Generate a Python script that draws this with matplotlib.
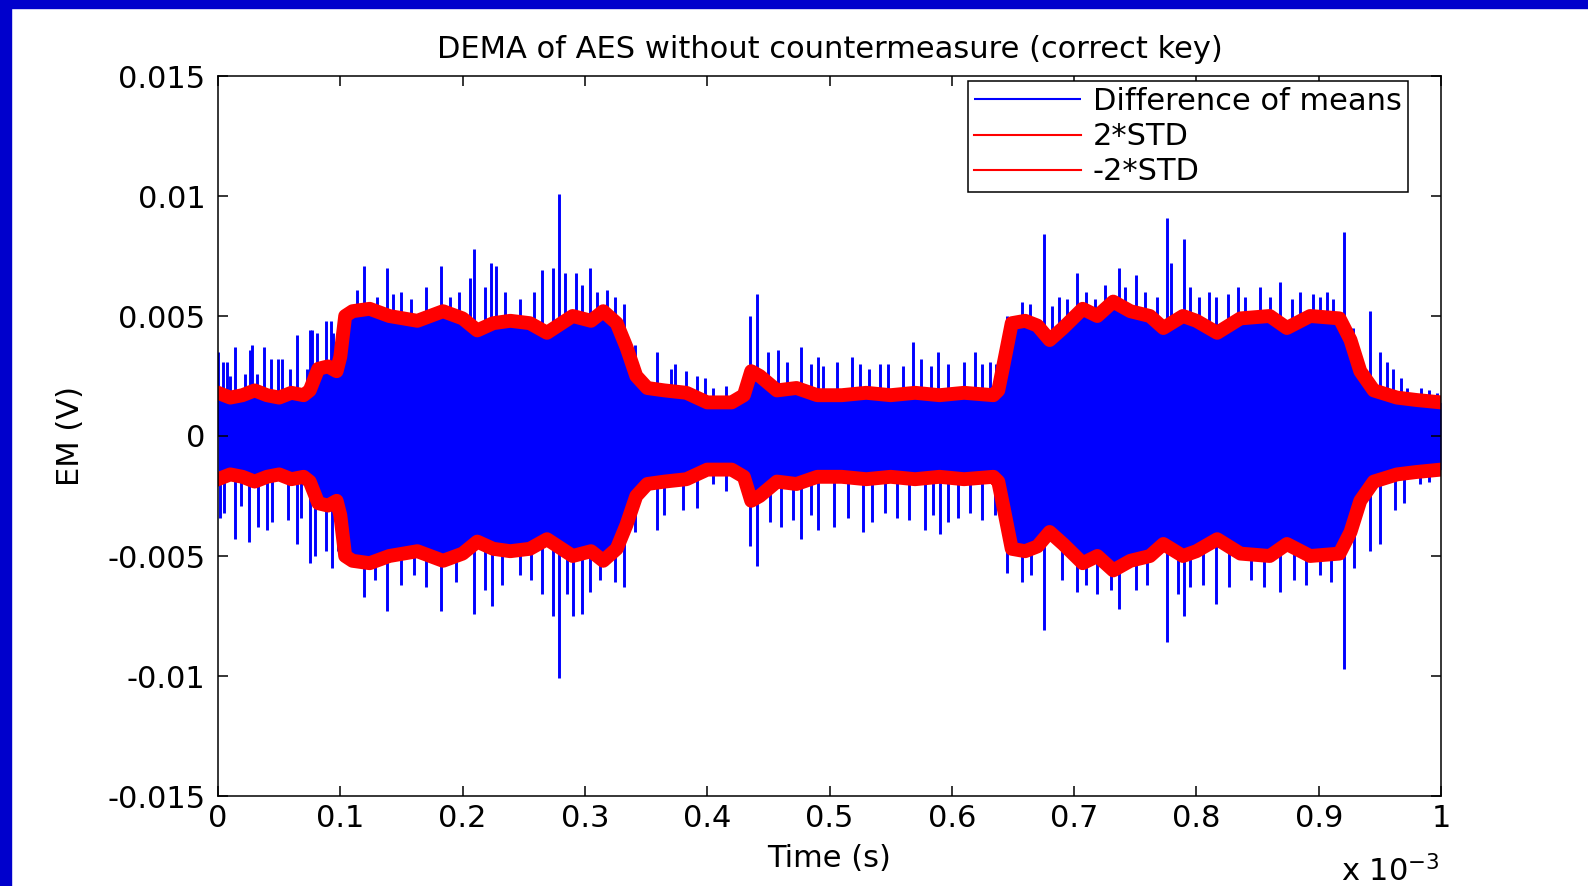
import numpy as np
import matplotlib
matplotlib.use("Agg")
import matplotlib.pyplot as plt
from matplotlib.patches import Rectangle
from matplotlib.ticker import FuncFormatter

# ── Data (time in ms, amplitude in V) ─────────────────────────────────────────
t_env = [0, 0.01, 0.02, 0.03, 0.04, 0.05, 0.06, 0.07, 0.075, 0.082, 0.09, 0.097,
         0.1, 0.104, 0.11, 0.124, 0.14, 0.163, 0.184, 0.2, 0.212, 0.225, 0.239,
         0.255, 0.269, 0.29, 0.305, 0.315, 0.326, 0.334, 0.342, 0.351, 0.365,
         0.383, 0.40, 0.41, 0.42, 0.43, 0.436, 0.443, 0.457, 0.473, 0.49, 0.51,
         0.53, 0.55, 0.57, 0.59, 0.61, 0.634, 0.638, 0.642, 0.649, 0.66, 0.67,
         0.68, 0.691, 0.707, 0.719, 0.732, 0.746, 0.762, 0.773, 0.789, 0.80,
         0.817, 0.836, 0.86, 0.874, 0.893, 0.917, 0.926, 0.934, 0.945, 0.964,
         0.98, 1.0]
std2 = [0.0018, 0.0016, 0.0017, 0.0019, 0.0017, 0.0016, 0.0018, 0.0017, 0.0019,
        0.0028, 0.0029, 0.0027, 0.0033, 0.0050, 0.0052, 0.0053, 0.0050, 0.0048,
        0.0052, 0.0049, 0.0044, 0.0047, 0.0048, 0.0047, 0.0043, 0.0050, 0.0048,
        0.0052, 0.0047, 0.0037, 0.0025, 0.0020, 0.0019, 0.0018, 0.0014, 0.0014,
        0.0014, 0.0017, 0.0027, 0.0025, 0.0019, 0.0020, 0.0017, 0.0017, 0.0018,
        0.0017, 0.0018, 0.0017, 0.0018, 0.0017, 0.0019, 0.0029, 0.0047, 0.0048,
        0.0046, 0.0040, 0.0045, 0.0053, 0.0050, 0.0056, 0.0052, 0.0050, 0.0045,
        0.0050, 0.0048, 0.0043, 0.0049, 0.0050, 0.0045, 0.0050, 0.0049, 0.0040,
        0.0027, 0.0019, 0.0016, 0.0015, 0.0014]

# positive excursions of the difference-of-means trace
pos_t = [0, 0.004, 0.007, 0.010, 0.014, 0.022, 0.026, 0.028, 0.032, 0.038, 0.043,
         0.049, 0.052, 0.059, 0.065, 0.073, 0.075, 0.077, 0.081, 0.088, 0.092,
         0.094, 0.098, 0.114, 0.119, 0.130, 0.138, 0.143, 0.150, 0.158, 0.170,
         0.182, 0.190, 0.197, 0.206, 0.209, 0.218, 0.223, 0.227, 0.235, 0.247,
         0.258, 0.265, 0.274, 0.279, 0.284, 0.293, 0.298, 0.304, 0.310, 0.318,
         0.325, 0.332, 0.341, 0.359, 0.370, 0.374, 0.383, 0.392, 0.398, 0.405,
         0.415, 0.435, 0.441, 0.450, 0.458, 0.465, 0.477, 0.485, 0.491, 0.495,
         0.506, 0.518, 0.525, 0.532, 0.541, 0.548, 0.560, 0.568, 0.575, 0.583,
         0.589, 0.597, 0.610, 0.619, 0.625, 0.631, 0.636, 0.645, 0.657, 0.664,
         0.675, 0.682, 0.688, 0.694, 0.702, 0.710, 0.717, 0.725, 0.737, 0.742,
         0.751, 0.758, 0.768, 0.776, 0.779, 0.790, 0.795, 0.802, 0.810, 0.816,
         0.826, 0.834, 0.840, 0.852, 0.860, 0.868, 0.878, 0.885, 0.895, 0.901,
         0.907, 0.912, 0.921, 0.928, 0.942, 0.950, 0.956, 0.961, 0.967, 0.972,
         0.984, 0.990, 0.997]
pos_v = [0.0035, 0.0031, 0.0031, 0.0025, 0.0037, 0.0026, 0.0036, 0.0038, 0.0026,
         0.0037, 0.0032, 0.0032, 0.0032, 0.0028, 0.0042, 0.0028, 0.0044, 0.0044,
         0.0043, 0.0048, 0.0048, 0.0043, 0.0044, 0.0061, 0.0071, 0.0058, 0.0070,
         0.0059, 0.0060, 0.0057, 0.0062, 0.0071, 0.0058, 0.0060, 0.0066, 0.0078,
         0.0062, 0.0072, 0.0071, 0.0060, 0.0057, 0.0060, 0.0069, 0.0070, 0.0101,
         0.0068, 0.0068, 0.0063, 0.0070, 0.0060, 0.0061, 0.0058, 0.0055, 0.0038,
         0.0035, 0.0028, 0.0030, 0.0027, 0.0025, 0.0024, 0.0020, 0.0021, 0.0050,
         0.0059, 0.0035, 0.0036, 0.0031, 0.0037, 0.0030, 0.0033, 0.0029, 0.0031,
         0.0033, 0.0030, 0.0028, 0.0030, 0.0030, 0.0029, 0.0039, 0.0032, 0.0029,
         0.0035, 0.0030, 0.0031, 0.0035, 0.0030, 0.0031, 0.0030, 0.0050, 0.0056,
         0.0055, 0.0084, 0.0054, 0.0058, 0.0057, 0.0068, 0.0060, 0.0057, 0.0063,
         0.0070, 0.0062, 0.0067, 0.0060, 0.0058, 0.0091, 0.0072, 0.0082, 0.0062,
         0.0058, 0.0060, 0.0058, 0.0059, 0.0062, 0.0058, 0.0062, 0.0058, 0.0064,
         0.0057, 0.0060, 0.0059, 0.0058, 0.0060, 0.0057, 0.0085, 0.0045, 0.0052,
         0.0035, 0.0031, 0.0028, 0.0024, 0.0020, 0.0020, 0.0019, 0.0018]

# negative excursions
neg_t = [0.002, 0.005, 0.014, 0.019, 0.025, 0.033, 0.040, 0.044, 0.057, 0.065,
         0.068, 0.075, 0.079, 0.088, 0.093, 0.098, 0.119, 0.128, 0.138, 0.150,
         0.160, 0.170, 0.182, 0.195, 0.209, 0.218, 0.224, 0.232, 0.247, 0.256,
         0.265, 0.274, 0.279, 0.285, 0.290, 0.298, 0.304, 0.312, 0.325, 0.332,
         0.341, 0.359, 0.365, 0.380, 0.392, 0.405, 0.415, 0.435, 0.441, 0.451,
         0.460, 0.470, 0.477, 0.485, 0.491, 0.504, 0.515, 0.527, 0.535, 0.545,
         0.555, 0.565, 0.578, 0.585, 0.590, 0.597, 0.605, 0.615, 0.625, 0.635,
         0.645, 0.657, 0.665, 0.675, 0.690, 0.702, 0.710, 0.719, 0.730, 0.737,
         0.751, 0.760, 0.776, 0.785, 0.790, 0.795, 0.805, 0.816, 0.827, 0.845,
         0.855, 0.868, 0.880, 0.890, 0.901, 0.910, 0.921, 0.929, 0.942, 0.950,
         0.962, 0.970, 0.983, 0.990]
neg_v = [-0.0034, -0.0032, -0.0043, -0.0029, -0.0044, -0.0038, -0.0039, -0.0036,
         -0.0035, -0.0045, -0.0034, -0.0053, -0.0050, -0.0048, -0.0055, -0.0048,
         -0.0067, -0.0060, -0.0073, -0.0062, -0.0058, -0.0063, -0.0073, -0.0061,
         -0.0074, -0.0064, -0.0071, -0.0062, -0.0058, -0.0060, -0.0066, -0.0075,
         -0.0101, -0.0066, -0.0075, -0.0074, -0.0065, -0.0060, -0.0061, -0.0063,
         -0.0040, -0.0039, -0.0033, -0.0031, -0.0030, -0.0020, -0.0023, -0.0046,
         -0.0054, -0.0036, -0.0038, -0.0035, -0.0043, -0.0033, -0.0039, -0.0038,
         -0.0034, -0.0040, -0.0036, -0.0032, -0.0034, -0.0035, -0.0039, -0.0033,
         -0.0041, -0.0036, -0.0034, -0.0032, -0.0035, -0.0033, -0.0057, -0.0061,
         -0.0058, -0.0081, -0.0060, -0.0065, -0.0062, -0.0066, -0.0064, -0.0072,
         -0.0064, -0.0062, -0.0086, -0.0066, -0.0075, -0.0063, -0.0062, -0.0070,
         -0.0063, -0.0060, -0.0063, -0.0065, -0.0060, -0.0062, -0.0058, -0.0061,
         -0.0097, -0.0055, -0.0048, -0.0045, -0.0031, -0.0028, -0.0020, -0.0019]

x_ticks = [0, 0.1, 0.2, 0.3, 0.4, 0.5, 0.6, 0.7, 0.8, 0.9, 1.0]
y_ticks = [-0.015, -0.01, -0.005, 0, 0.005, 0.01, 0.015]

BLUE = "#0000FF"
RED = "#FF0000"
FS = 22

# ── Figure ────────────────────────────────────────────────────────────────────
plt.rcParams["font.family"] = ["DejaVu Sans"]
fig = plt.figure(figsize=(15.88, 8.86), dpi=100)
ax = fig.add_axes([218 / 1588, 1 - 796 / 886, 1223 / 1588, 720 / 886])

# slide border
fig.patches.append(Rectangle((0, 1 - 8 / 886), 1, 8 / 886,
                             transform=fig.transFigure, color="#0000CC", zorder=0))
fig.patches.append(Rectangle((0, 0), 11 / 1588, 1,
                             transform=fig.transFigure, color="#0000CC", zorder=0))

te = np.array(t_env) * 1e-3
env = np.array(std2)

ax.fill_between(te, -env, env, color=BLUE, linewidth=0, zorder=1)
ax.vlines(np.array(pos_t) * 1e-3, 0, pos_v, color=BLUE, linewidth=2.1,
          zorder=1, label="Difference of means")
ax.vlines(np.array(neg_t) * 1e-3, neg_v, 0, color=BLUE, linewidth=2.1, zorder=1)
ax.plot(te, env, color=RED, linewidth=10, zorder=2, label="2*STD")
ax.plot(te, -env, color=RED, linewidth=10, zorder=2, label="-2*STD")

ax.set_xlim(0, 1e-3)
ax.set_ylim(-0.015, 0.015)
ax.set_xticks(np.array(x_ticks) * 1e-3)
ax.xaxis.set_major_formatter(FuncFormatter(lambda v, p: f"{v * 1e3:g}"))
ax.set_yticks(y_ticks)
ax.set_yticklabels([f"{v:g}" for v in y_ticks])

ax.tick_params(direction="in", length=7.5, width=1.1, top=True, right=True,
               labelsize=FS)
ax.tick_params(axis="x", pad=6)
ax.tick_params(axis="y", pad=9)
for s in ax.spines.values():
    s.set_linewidth(1.1)

ax.set_title("DEMA of AES without countermeasure (correct key)", fontsize=FS, pad=13)
ax.set_xlabel("Time (s)", fontsize=FS, labelpad=8)
ax.set_ylabel("EM (V)", fontsize=FS, labelpad=16)
fig.text(1440 / 1588, 1 - 881 / 886, r"x 10$^{-3}$", ha="right", va="baseline",
         fontsize=FS)

leg = ax.legend(loc="upper right", bbox_to_anchor=(0.973, 0.993), borderaxespad=0,
                fontsize=FS, fancybox=False, edgecolor="black", framealpha=1,
                handlelength=3.5, handletextpad=0.4, labelspacing=0.2,
                borderpad=0.2)
leg.get_frame().set_linewidth(1.1)
for line in leg.get_lines():
    line.set_linewidth(1.5)

fig.savefig("out.png", dpi=100)
